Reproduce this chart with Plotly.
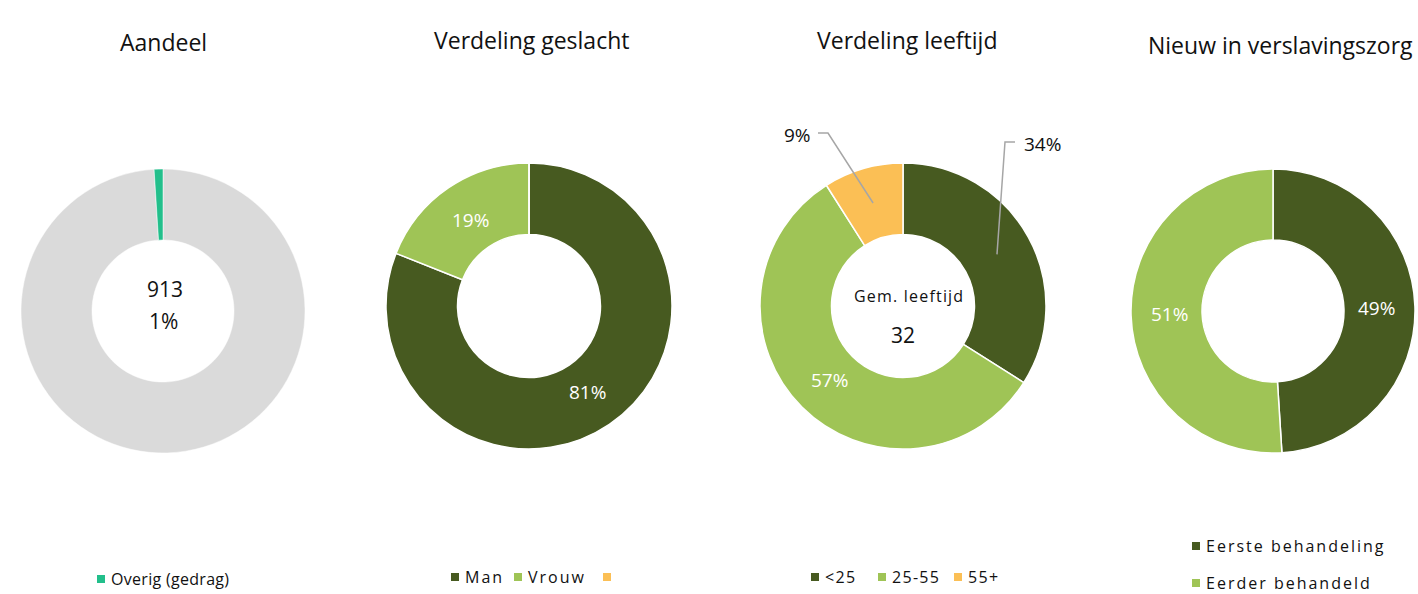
import math
import plotly.graph_objects as go

W, H = 1418, 594

# ---- data -------------------------------------------------------------
aandeel_labels = ["Overig", "Overig (gedrag)"]
aandeel_values = [99, 1]
aandeel_count = 913

geslacht_labels = ["Man", "Vrouw", ""]
geslacht_values = [81, 19, 0]

leeftijd_labels = ["<25", "25-55", "55+"]
leeftijd_values = [34, 57, 9]
gem_leeftijd = 32

nieuw_labels = ["Eerste behandeling", "Eerder behandeld"]
nieuw_values = [49, 51]

titles = ["Aandeel", "Verdeling geslacht", "Verdeling leeftijd", "Nieuw in verslavingszorg"]

# ---- styling ----------------------------------------------------------
DARK = "#475a20"
LIGHT = "#9fc456"
ORANGE = "#fbbf55"
TEAL = "#22bf8b"
GREY = "#dadada"
TXT = "#111111"
FONT = "Open Sans"

# donut centres / radii in pixels
centres = [(163, 311, 142), (529, 306, 143), (903, 306, 143), (1273, 311, 142)]
HOLE = 0.5


def px(x):
    return x / W


def py(y):
    return 1 - y / H


def domain(c):
    cx, cy, r = c
    return dict(x=[px(cx - r), px(cx + r)], y=[py(cy + r), py(cy - r)])


def mid_point(c, values, i, frac=0.75):
    """Point at the angular middle of slice i, at frac of outer radius."""
    cx, cy, r = c
    total = sum(values)
    start = sum(values[:i]) / total
    ang = 2 * math.pi * (start + values[i] / total / 2)
    rr = r * frac
    return cx + rr * math.sin(ang), cy - rr * math.cos(ang)


fig = go.Figure()

pies = [
    (aandeel_labels, aandeel_values, [GREY, TEAL], 0.5),
    (geslacht_labels, geslacht_values, [DARK, LIGHT, ORANGE], 1.5),
    (leeftijd_labels, leeftijd_values, [DARK, LIGHT, ORANGE], 1.5),
    (nieuw_labels, nieuw_values, [DARK, LIGHT], 1.5),
]
for c, (labs, vals, cols, lw) in zip(centres, pies):
    fig.add_trace(go.Pie(
        labels=labs, values=vals, hole=HOLE, sort=False,
        direction="clockwise", rotation=0,
        marker=dict(colors=cols, line=dict(color="white", width=lw)),
        textinfo="none", hoverinfo="skip", showlegend=False,
        domain=domain(c),
    ))

ann = []


def text(x, y, s, size, color=TXT, xanchor="center", spacing=0):
    if spacing:
        s = f'<span style="letter-spacing:{spacing}px">{s}</span>'
    ann.append(dict(x=px(x), y=py(y), xref="paper", yref="paper", text=s,
                    showarrow=False, xanchor=xanchor, yanchor="middle",
                    font=dict(family=FONT, size=size, color=color)))


# titles
for x, y, t in zip([163, 531, 907, 1280], [42, 40, 40, 45], titles):
    text(x, y, t, 23)

# centre texts
text(165, 289, str(aandeel_count), 21)
text(163, 321, f"{aandeel_values[1]}%", 21)
text(909, 296, "Gem. leeftijd", 16, spacing=1.2)
text(903, 335, str(gem_leeftijd), 21)

# inside percentage labels
for ci, vals, idxs in [(1, geslacht_values, [0, 1]), (2, leeftijd_values, [1]),
                       (3, nieuw_values, [0, 1])]:
    for i in idxs:
        x, y = mid_point(centres[ci], vals, i, 0.73)
        text(x, y, f"{vals[i]}%", 19, color="white")

# outside labels with leader lines (age chart)
shapes = []
for i, elbow, end, lx, anchor in [(0, (1005, 142), (1015, 142), 1022, "left"),
                                   (2, (828, 133), (818, 133), 813, "right")]:
    ax, ay = mid_point(centres[2], leeftijd_values, i)
    shapes.append(dict(type="path", xref="paper", yref="paper",
                       path=f"M {px(ax)},{py(ay)} L {px(elbow[0])},{py(elbow[1])} L {px(end[0])},{py(end[1])}",
                       line=dict(color="#a6a6a6", width=1.5)))
    text(lx, end[1] + 2, f"{leeftijd_values[i]}%", 19, xanchor=anchor)

# legends: coloured squares followed by labels
LEG = 16


def legend_item(x, y, color, label, spacing=2.0):
    shapes.append(dict(type="rect", xref="paper", yref="paper",
                       x0=px(x - 4), x1=px(x + 4), y0=py(y + 4), y1=py(y - 4),
                       fillcolor=color, line=dict(width=0)))
    if label:
        text(x + 8, y, label, LEG, xanchor="left", spacing=spacing)


legend_item(101, 579, TEAL, aandeel_labels[1], spacing=0.3)
for x, col, lab in zip([455, 518, 607], [DARK, LIGHT, ORANGE], geslacht_labels):
    legend_item(x, 577, col, lab)
for x, col, lab in zip([815, 882, 958], [DARK, LIGHT, ORANGE], leeftijd_labels):
    legend_item(x, 577, col, lab, spacing=1.3)
for y, col, lab in zip([546, 583], [DARK, LIGHT], nieuw_labels):
    legend_item(1196, y, col, lab)

fig.update_layout(
    width=W, height=H, margin=dict(l=0, r=0, t=0, b=0),
    paper_bgcolor="white", plot_bgcolor="white",
    annotations=ann, shapes=shapes, showlegend=False,
)
fig.write_html("out.html", config={"displayModeBar": False})
